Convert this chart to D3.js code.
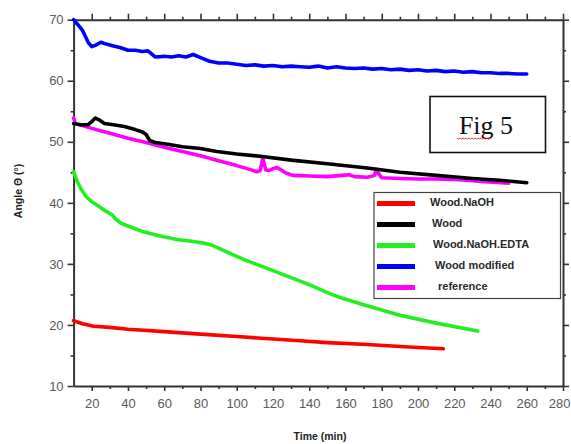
<!DOCTYPE html>
<html><head><meta charset="utf-8">
<script src="https://cdn.jsdelivr.net/npm/d3@7"></script>
<style>body{margin:0;background:#fff}svg{display:block}</style>
</head><body>
<svg id="c" width="571" height="444"></svg>
<script>
const seriesNames = ["Wood.NaOH","Wood","Wood.NaOH.EDTA","Wood modified","reference"];
const seriesColors = ["#ff0000","#000000","#22ee22","#0000ff","#ff00ff"];
const woodNaOH = [[10,20.7],[15,20.2],[21,19.8],[30,19.6],[40,19.3],[60,18.9],[80,18.5],[100,18.1],[120,17.7],[135,17.4],[150,17.1],[172,16.8],[195,16.4],[214,16.1]];
const wood = [[10,53.0],[14,52.8],[18,52.8],[20,53.3],[22,53.9],[24,53.6],[27,53.0],[32,52.8],[38,52.5],[44,52.0],[48,51.6],[50,51.2],[52,50.2],[55,49.9],[62,49.6],[70,49.2],[80,48.9],[89,48.4],[100,48.0],[114,47.6],[130,47.0],[150,46.4],[172,45.7],[190,45.0],[210,44.5],[230,44.0],[245,43.7],[260,43.3]];
const woodEDTA = [[10,45.1],[12,43.5],[14,42.3],[17,41.0],[20,40.2],[24,39.4],[28,38.6],[31,38.1],[33,37.4],[36,36.7],[40,36.2],[48,35.3],[57,34.6],[67,34.0],[75,33.7],[82,33.4],[86,33.1],[95,31.9],[104,30.7],[120,28.9],[140,26.6],[150,25.3],[157,24.5],[170,23.3],[190,21.6],[210,20.3],[233,19.0]];
const woodModified = [[10,70.0],[12,69.3],[15,68.2],[18,66.3],[20,65.6],[22,65.8],[25,66.3],[28,66.0],[32,65.7],[36,65.4],[40,65.0],[44,65.0],[48,64.8],[51,64.9],[53,64.4],[55,63.9],[60,64.0],[64,63.9],[68,64.1],[72,63.9],[76,64.3],[80,63.8],[85,63.2],[90,62.9],[95,62.9],[100,62.7],[105,62.5],[110,62.6],[115,62.4],[120,62.5],[125,62.3],[130,62.4],[135,62.3],[140,62.2],[145,62.4],[150,62.1],[155,62.3],[160,62.1],[165,62.0],[170,62.1],[175,61.9],[180,62.0],[185,61.8],[190,61.9],[195,61.7],[200,61.8],[205,61.6],[210,61.7],[215,61.5],[220,61.6],[225,61.4],[230,61.5],[235,61.3],[240,61.3],[245,61.2],[250,61.2],[255,61.1],[260,61.1]];
const reference = [[10,53.9],[11,53.0],[20,52.2],[30,51.4],[40,50.6],[50,49.9],[60,49.1],[70,48.4],[80,47.7],[90,46.9],[100,46.1],[108,45.4],[111,45.1],[113,45.3],[114.3,47.3],[115,46.6],[116,45.4],[118,45.3],[120,45.6],[122,45.8],[124,45.5],[127,44.9],[131,44.5],[140,44.4],[150,44.3],[158,44.5],[162,44.6],[165,44.3],[172,44.2],[176,44.5],[177,45.5],[178,44.9],[180,44.1],[190,44.0],[200,43.9],[210,43.9],[223,43.8],[235,43.5],[250,43.2]];
const xMajorTicks = [20,40,60,80,100,120,140,160,180,200,220,240,260,280];
const xMinorTicks = [30,50,70,90,110,130,150,170,190,210,230,250,270];
const yMajorTicks = [10,20,30,40,50,60,70];
const yMinorTicks = [15,25,35,45,55,65];
const xTitle = "Time (min)";
const yTitle = "Angle Θ (°)";
const figLabel = "Fig 5";

const allSeries = [woodNaOH, wood, woodEDTA, woodModified, reference];
const svg = d3.select("#c");
const x = d3.scaleLinear().domain([10,280]).range([73.6,563]);
const y = d3.scaleLinear().domain([10,70]).range([386,19.7]);
const axisColor = "#333";
const labelColor = "#5a5a5a";

function styleAxis(g){
  g.select(".domain").attr("stroke",axisColor).attr("stroke-width",2);
  g.selectAll(".tick line").attr("stroke",axisColor).attr("stroke-width",1.6);
  g.selectAll(".tick text").attr("fill",labelColor).style("font-family","Liberation Sans, Arial, sans-serif").style("font-size","13px");
}
// bottom
const gB = svg.append("g").attr("transform",`translate(0,${y(10)})`);
gB.call(d3.axisBottom(x).tickValues(xMajorTicks).tickSize(5).tickSizeOuter(0).tickPadding(8)).call(styleAxis);
gB.selectAll(".tick text").filter(d=>d===280).attr("text-anchor","end").attr("dx","7");
svg.append("g").attr("transform",`translate(0,${y(10)})`).call(d3.axisBottom(x).tickValues(xMinorTicks).tickSize(3).tickFormat("")).call(styleAxis).select(".domain").remove();
// left
const gL = svg.append("g").attr("transform",`translate(${x(10)},0)`);
gL.call(d3.axisLeft(y).tickValues(yMajorTicks).tickSize(6).tickSizeOuter(0).tickPadding(4)).call(styleAxis);
svg.append("g").attr("transform",`translate(${x(10)},0)`).call(d3.axisLeft(y).tickValues(yMinorTicks).tickSize(3).tickFormat("")).call(styleAxis).select(".domain").remove();
// top
svg.append("g").attr("transform",`translate(0,${y(70)})`).call(d3.axisTop(x).tickValues(xMajorTicks).tickSize(6).tickSizeOuter(0).tickFormat("")).call(styleAxis);
svg.append("g").attr("transform",`translate(0,${y(70)})`).call(d3.axisTop(x).tickValues(xMinorTicks).tickSize(3).tickFormat("")).call(styleAxis).select(".domain").remove();
// right
svg.append("g").attr("transform",`translate(${x(280)},0)`).call(d3.axisRight(y).tickValues(yMajorTicks).tickSize(6).tickSizeOuter(0).tickFormat("")).call(styleAxis);
svg.append("g").attr("transform",`translate(${x(280)},0)`).call(d3.axisRight(y).tickValues(yMinorTicks).tickSize(3).tickFormat("")).call(styleAxis).select(".domain").remove();

// lines
const line = d3.line().x(d=>x(d[0])).y(d=>y(d[1])).curve(d3.curveLinear);
const drawOrder = [2,0,4,1,3];
drawOrder.forEach(i=>{
  svg.append("path").datum(allSeries[i]).attr("d",line)
    .attr("fill","none").attr("stroke",seriesColors[i]).attr("stroke-width",3.6)
    .attr("stroke-linejoin","round").attr("stroke-linecap","round");
});

// axis titles
svg.append("text").attr("x",320).attr("y",440).attr("text-anchor","middle")
  .style("font-family","Liberation Sans, Arial, sans-serif").style("font-size","10.5px").style("font-weight","bold").attr("fill","#222").text(xTitle);
svg.append("text").attr("transform","translate(22,191) rotate(-90)").attr("text-anchor","middle")
  .style("font-family","Liberation Sans, Arial, sans-serif").style("font-size","10.5px").style("font-weight","bold").attr("fill","#222").text(yTitle);

// legend
const lg = svg.append("g");
lg.append("rect").attr("x",374).attr("y",192.5).attr("width",186.5).attr("height",106).attr("fill","#fff").attr("stroke","#444").attr("stroke-width",1.2);
const legendTextX = [430,432,433,435,438];
seriesNames.forEach((n,i)=>{
  const ly = 203.5 + i*21;
  lg.append("line").attr("x1",377).attr("x2",415).attr("y1",ly).attr("y2",ly).attr("stroke",seriesColors[i]).attr("stroke-width",5);
  lg.append("text").attr("x",legendTextX[i]).attr("y",ly+2).style("font-family","Liberation Sans, Arial, sans-serif").style("font-size","11px").style("font-weight","bold").attr("fill","#2a2a2a").text(n);
});

// Fig box
svg.append("rect").attr("x",430).attr("y",96.5).attr("width",115.5).attr("height",56).attr("fill","#fff").attr("stroke","#111").attr("stroke-width",1.6);
svg.append("text").attr("x",486).attr("y",134).attr("text-anchor","middle").style("font-family","Liberation Serif, Times New Roman, serif").style("font-size","26px").attr("fill","#111").text(figLabel);
let sq = "M457,137.8";
for(let k=0;k<23;k++){ sq += ` l1.5,${k%2?-1.5:1.5}`; }
svg.append("path").attr("d",sq).attr("fill","none").attr("stroke","#e02020").attr("stroke-width",0.9);
</script>
</body></html>
